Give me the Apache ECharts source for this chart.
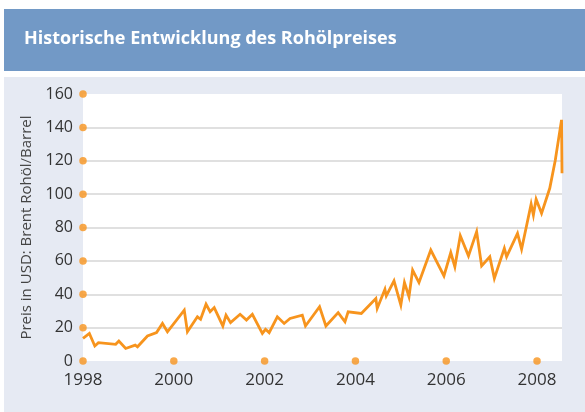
<!DOCTYPE html>
<html>
<head>
<meta charset="utf-8">
<script src="https://cdn.jsdelivr.net/npm/echarts@6/dist/echarts.min.js"></script>
<style>
  html, body { margin: 0; padding: 0; background: #fff; }
  #chart { width: 585px; height: 412px; }
</style>
</head>
<body>
<div id="chart"></div>
<script>
// Brent-Preis (USD/Barrel)
const years = [
  1998.00, 1998.14, 1998.26, 1998.34, 1998.72, 1998.79, 1998.94, 1999.15, 1999.20, 1999.42,
  1999.62, 1999.75, 1999.86, 2000.23, 2000.30, 2000.52, 2000.59, 2000.71, 2000.80, 2000.89,
  2001.08, 2001.15, 2001.25, 2001.46, 2001.60, 2001.73, 2001.95, 2002.02, 2002.10, 2002.28,
  2002.43, 2002.56, 2002.83, 2002.90, 2003.21, 2003.35, 2003.62, 2003.77, 2003.84, 2004.13,
  2004.45, 2004.48, 2004.65, 2004.68, 2004.85, 2005.00, 2005.08, 2005.18, 2005.26, 2005.40,
  2005.66, 2005.95, 2006.10, 2006.19, 2006.31, 2006.49, 2006.67, 2006.78, 2006.96, 2007.06,
  2007.28, 2007.33, 2007.57, 2007.66, 2007.87, 2007.92, 2007.98, 2008.10, 2008.28, 2008.40,
  2008.54, 2008.55
]
const prices = [
  13.5, 16.5, 9, 11, 10, 12, 7.5, 9.5, 8.5, 15,
  17, 22.5, 17.5, 30.5, 17.5, 26.5, 25, 34, 29.5, 32,
  21, 27.5, 23, 28, 24.5, 28, 16.5, 19, 17, 26.5,
  22.5, 25.5, 27.5, 21, 32.5, 21, 29, 23.5, 29.5, 28.5,
  37.5, 31.5, 43, 39, 48, 33.5, 47, 38.5, 54.5, 47,
  66.5, 51, 65, 56.5, 75, 63, 77.5, 57, 62.5, 49.5,
  67.5, 62.5, 76.5, 67, 94, 87.5, 97, 88.5, 103.5, 120,
  144.5, 112.5
]
const xTicks = [1998, 2000, 2002, 2004, 2006, 2008]
const yTicks = [0, 20, 40, 60, 80, 100, 120, 140, 160]

const title = 'Historische Entwicklung des Rohölpreises'
const yName = 'Preis in USD: Brent Rohöl/Barrel'

const ORANGE = '#f7941d'
const FONT = '"Open Sans", "Noto Sans", sans-serif'

const chart = echarts.init(document.getElementById('chart'), null, { renderer: 'canvas' })

// orange dots sitting on the tick positions of both axes
const tickDots = [
  ...yTicks.map((v) => [xTicks[0], v]),
  ...xTicks.slice(1).map((y) => [y, 0])
]

chart.setOption({
  animation: false,
  backgroundColor: '#fff',
  title: {
    text: title,
    left: 24, top: 30, padding: 0,
    textStyle: { color: '#fff', fontSize: 18, fontWeight: 'bold', fontFamily: FONT }
  },
  graphic: [
    { type: 'rect', z: -10, shape: { x: 4, y: 9, width: 581, height: 62 }, style: { fill: '#7299c6' } },
    { type: 'rect', z: -10, shape: { x: 4, y: 77, width: 581, height: 335 }, style: { fill: '#e6eaf3' } }
  ],
  grid: {
    left: 83, right: 23, top: 94, bottom: 51,
    show: true, backgroundColor: '#fff', borderWidth: 0
  },
  xAxis: {
    type: 'value', min: 1998, max: 2008.55, interval: 2,
    axisLine: { show: false }, axisTick: { show: false }, splitLine: { show: false },
    axisLabel: {
      margin: 11, color: '#333', fontSize: 17, fontFamily: FONT,
      formatter: (v) => (xTicks.includes(v) ? String(v) : '')
    }
  },
  yAxis: {
    type: 'value', min: 0, max: 160, interval: 20,
    name: yName, nameLocation: 'middle', nameGap: 48,
    nameTextStyle: { color: '#444', fontSize: 15, fontFamily: FONT },
    axisLine: { show: false }, axisTick: { show: false },
    axisLabel: { margin: 10, color: '#333', fontSize: 16, fontFamily: FONT },
    splitLine: {
      show: true, showMinLine: false, showMaxLine: false,
      lineStyle: { color: '#d6d6d6', width: 1.5 }
    }
  },
  series: [
    {
      type: 'line',
      data: years.map((y, i) => [y, prices[i]]),
      showSymbol: false, symbol: 'none',
      lineStyle: { color: ORANGE, width: 2.8, join: 'miter' },
      z: 3
    },
    {
      type: 'scatter',
      data: tickDots,
      symbolSize: 7.5, clip: false,
      itemStyle: { color: ORANGE },
      silent: true, z: 4
    }
  ]
})
</script>
</body>
</html>
